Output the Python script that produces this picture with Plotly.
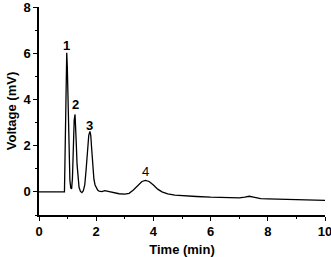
import plotly.graph_objects as go

time_min = [0, 0.5, 0.85, 0.89, 0.91, 0.93, 0.95, 0.97, 0.99, 1.01, 1.03, 1.05, 1.08, 1.11, 1.14,
            1.17, 1.20, 1.23, 1.26, 1.28, 1.30, 1.33, 1.36, 1.40, 1.45, 1.50, 1.55, 1.60, 1.65,
            1.70, 1.74, 1.78, 1.81, 1.84, 1.88, 1.92, 1.96, 2.00, 2.05, 2.10, 2.20, 2.30, 2.40,
            2.60, 2.80, 3.00, 3.15, 3.30, 3.45, 3.60, 3.72, 3.85, 4.00, 4.15, 4.30, 4.50, 4.75,
            5.00, 5.50, 6.00, 6.50, 7.00, 7.20, 7.35, 7.50, 7.75, 8.00, 8.50, 9.00, 9.50, 10.0]
voltage_mv = [0.0, 0.0, -0.01, 0.0, 1.5, 3.8, 5.5, 6.02, 5.4, 4.0, 2.5, 1.3, 0.5, 0.17, 0.13,
              0.6, 2.0, 3.1, 3.35, 3.0, 2.2, 1.2, 0.55, 0.2, 0.02, -0.03, 0.05, 0.3, 1.0,
              1.9, 2.45, 2.62, 2.45, 1.9, 1.1, 0.55, 0.3, 0.18, 0.08, 0.03, 0.01, 0.05, 0.02,
              -0.05, -0.08, -0.1, -0.06, 0.08, 0.28, 0.45, 0.5, 0.45, 0.3, 0.12, 0.0, -0.09, -0.14,
              -0.17, -0.2, -0.23, -0.24, -0.26, -0.23, -0.19, -0.23, -0.29, -0.3, -0.31, -0.33, -0.35, -0.37]

peak_labels = ["1", "2", "3", "4"]
peak_x = [0.97, 1.26, 1.78, 3.71]
peak_y = [6.35, 3.8, 2.86, 0.9]
peak_bold = [True, True, True, False]

font_family = "Liberation Sans, Arial, sans-serif"

fig = go.Figure()
fig.add_trace(go.Scatter(x=time_min, y=voltage_mv, mode="lines", cliponaxis=False,
                         line=dict(color="black", width=1.3), showlegend=False))

for lab, px, py, b in zip(peak_labels, peak_x, peak_y, peak_bold):
    fig.add_annotation(x=px, y=py, text=lab, showarrow=False,
                       font=dict(family=font_family, size=13, color="black",
                                 weight="bold" if b else "normal"))

axis_common = dict(showline=True, linecolor="black", linewidth=1.5, ticks="outside",
                   ticklen=4, tickwidth=1.3, tickcolor="black", showgrid=False, zeroline=False,
                   automargin=False, ticklabeloverflow="allow",
                   tickfont=dict(family=font_family, size=13, color="black", weight="bold"))

fig.update_xaxes(range=[0, 10], dtick=2, tick0=0,
                 minor=dict(ticks="outside", dtick=1, ticklen=2.5, tickwidth=1.2, tickcolor="black"),
                 title=dict(text="Time (min)", standoff=7,
                            font=dict(family=font_family, size=13, color="black", weight="bold")),
                 **axis_common)
fig.update_yaxes(range=[-1, 8], dtick=2, tick0=0,
                 minor=dict(ticks="outside", dtick=1, ticklen=2.5, tickwidth=1.2, tickcolor="black"),
                 title=dict(text="Voltage (mV)", standoff=4,
                            font=dict(family=font_family, size=13, color="black", weight="bold")),
                 **axis_common)

fig.update_layout(width=331, height=257, margin=dict(l=39, r=6, t=7, b=42),
                  plot_bgcolor="white", paper_bgcolor="white")

fig.write_html("out.html", config={"displayModeBar": False},
               post_script="document.body.style.margin='0';document.body.style.overflow='hidden';")
